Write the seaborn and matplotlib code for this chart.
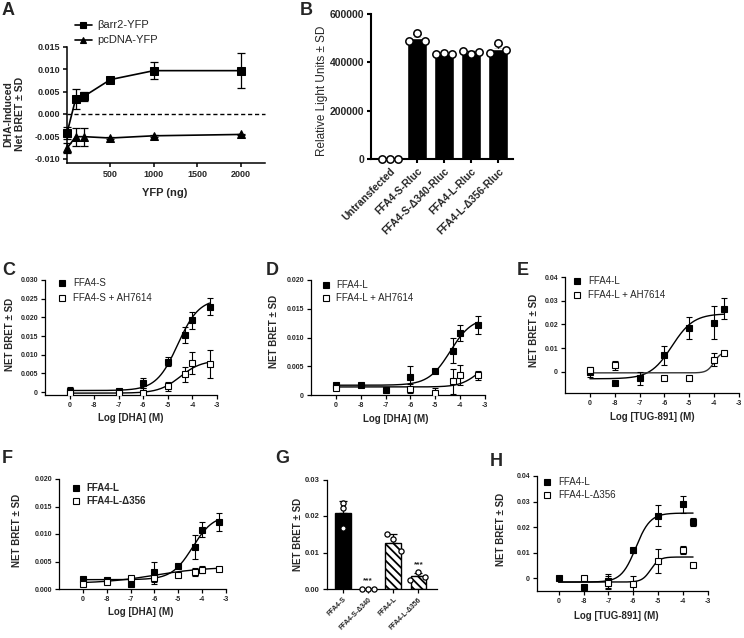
import numpy as np
import pandas as pd
import seaborn as sns
import matplotlib.pyplot as plt
from matplotlib.lines import Line2D

# ---------------- data ----------------
# A - YFP titration
yfp_ng = [0, 100, 200, 500, 1000, 2000]
barr2_mean = [-0.0043, 0.0034, 0.0040, 0.0077, 0.0097, 0.0097]
barr2_sd = [0.0014, 0.0022, 0.0010, 0.0003, 0.0019, 0.0039]
pcdna_mean = [-0.0077, -0.0051, -0.0051, -0.0054, -0.0049, -0.0046]
pcdna_sd = [0.0011, 0.0020, 0.0020, 0.0002, 0.0002, 0.0002]
a_yticks = [-0.010, -0.005, 0.000, 0.005, 0.010, 0.015]
a_ylabels = ['-0.010', '-0.005', '0.000', '0.005', '0.010', '0.015']
a_xticks = [500, 1000, 1500, 2000]

# B - luciferase expression
b_groups = ['Untransfected', 'FFA4-S-Rluc', 'FFA4-S-Δ340-Rluc', 'FFA4-L-Rluc', 'FFA4-L-Δ356-Rluc']
b_mean = [0, 499000, 436000, 441000, 456000]
b_sd = [0, 18000, 3000, 7000, 21000]
b_reps = [[0, 0, 0], [489000, 520000, 489000], [433000, 437000, 436000],
          [448000, 434000, 441000], [437000, 478000, 453000]]
b_yticks = [0, 200000, 400000, 600000]
b_ylabels = ['0', '200000', '400000', '600000']

# dose-response panels: vehicle ("0") is drawn at -9
log_ticks = [-9, -8, -7, -6, -5, -4, -3]
log_labels = ['0', '-8', '-7', '-6', '-5', '-4', '-3']

# C - FFA4-S +/- AH7614, DHA
c_x = [-9, -7, -6, -5, -4.3, -4, -3.3]
c_s_mean = [0.0003, 0.0004, 0.0025, 0.0081, 0.0153, 0.0192, 0.0229]
c_s_sd = [0.0010, 0.0003, 0.0013, 0.0012, 0.0022, 0.0023, 0.0024]
c_ah_x = [-9, -7, -6, -5, -4.3, -4, -3.3]
c_ah_mean = [-0.0002, -0.0002, -0.0003, 0.0015, 0.0047, 0.0077, 0.0075]
c_ah_sd = [0.0002, 0.0002, 0.0013, 0.0012, 0.0020, 0.0030, 0.0037]
c_fit_s = [0.0004, 0.0250, -4.6, 1.0]    # bottom, top, logEC50, hill
c_fit_ah = [-0.0003, 0.0085, -4.5, 1.0]
c_yticks = [0, 0.005, 0.010, 0.015, 0.020, 0.025, 0.030]
c_ylabels = ['0', '0.005', '0.010', '0.015', '0.020', '0.025', '0.030']

# D - FFA4-L +/- AH7614, DHA
d_x = [-9, -8, -7, -6, -5, -4.3, -4, -3.3]
d_l_mean = [0.0018, 0.0017, 0.0009, 0.0031, 0.0041, 0.0077, 0.0108, 0.0122]
d_l_sd = [0.0002, 0.0002, 0.0002, 0.0019, 0.0003, 0.0022, 0.0014, 0.0016]
d_ah_x = [-9, -6, -5, -4.3, -4, -3.3]
d_ah_mean = [0.0012, 0.0011, 0.0004, 0.0024, 0.0035, 0.0034]
d_ah_sd = [0.0002, 0.0008, 0.0008, 0.0022, 0.0018, 0.0008]
d_fit_l = [0.0017, 0.0135, -4.4, 1.0]
d_fit_ah = [0.0014, 0.0060, -3.3, 1.2]
d_yticks = [0, 0.005, 0.010, 0.015, 0.020]
d_ylabels = ['0', '0.005', '0.010', '0.015', '0.020']

# E - FFA4-L +/- AH7614, TUG-891
e_x = [-9, -8, -7, -6, -5, -4, -3.6]
e_l_mean = [-0.0003, -0.0048, -0.0028, 0.0069, 0.0184, 0.0207, 0.0266]
e_l_sd = [0.0018, 0.0010, 0.0027, 0.0040, 0.0045, 0.0070, 0.0045]
e_ah_x = [-9, -8, -6, -5, -4, -3.6]
e_ah_mean = [0.0008, 0.0027, -0.0025, -0.0025, 0.0050, 0.0081]
e_ah_sd = [0.0010, 0.0018, 0.0003, 0.0003, 0.0027, 0.0005]
e_fit_l = [-0.0030, 0.0245, -5.7, 1.0]
e_fit_ah = [-0.0005, 0.0085, -4.0, 3.0]
e_yticks = [0, 0.01, 0.02, 0.03, 0.04]
e_ylabels = ['0', '0.01', '0.02', '0.03', '0.04']

# F - FFA4-L vs FFA4-L-Δ356, DHA
f_x = [-9, -8, -7, -6, -5, -4.3, -4, -3.3]
f_l_mean = [0.0018, 0.0017, 0.0009, 0.0031, 0.0041, 0.0077, 0.0108, 0.0122]
f_l_sd = [0.0002, 0.0002, 0.0002, 0.0019, 0.0003, 0.0022, 0.0014, 0.0016]
f_d_mean = [0.0010, 0.0012, 0.0020, 0.0020, 0.0026, 0.0031, 0.0035, 0.0037]
f_d_sd = [0.0003, 0.0002, 0.0002, 0.0011, 0.0002, 0.0007, 0.0006, 0.0002]
f_fit_l = [0.0017, 0.0135, -4.4, 1.0]
f_fit_d = [0.0010, 0.0040, -6.0, 0.4]
f_yticks = [0, 0.005, 0.010, 0.015, 0.020]
f_ylabels = ['0.000', '0.005', '0.010', '0.015', '0.020']

# G - single-concentration response
g_groups = ['FFA4-S', 'FFA4-S-Δ340', 'FFA4-L', 'FFA4-L-Δ356']
g_mean = [0.0207, 0.0, 0.0127, 0.0035]
g_sd = [0.0035, 0.0, 0.0025, 0.0009]
g_reps = [[0.0235, 0.0222, 0.0166], [0, 0, 0], [0.0150, 0.0105, 0.0136], [0.0026, 0.0046, 0.0033]]
g_yticks = [0, 0.01, 0.02, 0.03]
g_ylabels = ['0.00', '0.01', '0.02', '0.03']

# H - FFA4-L vs FFA4-L-Δ356, TUG-891
h_x = [-9, -8, -7, -6, -5, -4, -3.6]
h_l_mean = [0.0000, -0.0035, -0.0010, 0.0109, 0.0245, 0.0289, 0.0220]
h_l_sd = [0.0003, 0.0003, 0.0028, 0.0010, 0.0042, 0.0032, 0.0015]
h_d_x = [-8, -7, -6, -5, -4, -3.6]
h_d_mean = [0.0000, -0.0017, -0.0024, 0.0068, 0.0111, 0.0050]
h_d_sd = [0.0003, 0.0025, 0.0033, 0.0048, 0.0017, 0.0008]
h_fit_l = [-0.0015, 0.0255, -5.9, 1.5]
h_fit_d = [-0.0015, 0.0083, -5.3, 2.5]
h_yticks = [0, 0.01, 0.02, 0.03, 0.04]
h_ylabels = ['0', '0.01', '0.02', '0.03', '0.04']

# ---------------- figure ----------------
sns.set_style("ticks")
plt.rcParams['font.family'] = ['Liberation Sans', 'DejaVu Sans']
plt.rcParams['hatch.linewidth'] = 1.3
plt.rcParams['hatch.color'] = 'black'

W, H = 744, 638
fig = plt.figure(figsize=(W / 100, H / 100), dpi=100)


def fx(x):
    return x / W


def fy(y):
    return 1 - y / H


def box(l, t, r, b):
    return fig.add_axes([fx(l), fy(b), (r - l) / W, (b - t) / H])


def style(ax, lw=0.9):
    sns.despine(ax=ax)
    for s in ('left', 'bottom'):
        ax.spines[s].set_linewidth(lw)
        ax.spines[s].set_color('black')
    ax.tick_params(width=lw, length=3, color='black', pad=2)


def hill(x, p):
    bottom, top, ec50, h = p
    return bottom + (top - bottom) / (1 + 10 ** ((ec50 - x) * h))


def fit_line(ax, p, xmax, color='black'):
    xs = np.linspace(-9, xmax, 200)
    sns.lineplot(x=xs, y=hill(xs, p), ax=ax, color=color, lw=1.0, zorder=2)


def points(ax, x, y, sd, filled):
    ax.errorbar(x, y, yerr=sd, fmt='s', ms=4, mfc='black' if filled else 'white',
                mec='black', mew=0.8, ecolor='black', elinewidth=0.8,
                capsize=2.5, capthick=0.8, zorder=3 if filled else 4)


def key(xm, y, label, xt, size=7, marker='s', mfc='black', ms=4, x0=None, x1=None, weight='normal'):
    if x0 is not None:
        fig.add_artist(Line2D([fx(x0), fx(x1)], [fy(y), fy(y)], color='black', lw=1.2))
    fig.add_artist(Line2D([fx(xm)], [fy(y)], marker=marker, ms=ms, mfc=mfc, mec='black',
                          mew=0.8, ls='none'))
    fig.text(fx(xt), fy(y), label, fontsize=size, va='center', ha='left', weight=weight)


def dose_axes(ax, yt, yl, ylim, xlim=(-10, -3)):
    style(ax)
    ax.set_xlim(*xlim)
    ax.set_ylim(*ylim)
    ax.set_xticks(log_ticks, log_labels, fontsize=5, fontweight='bold')
    ax.set_yticks(yt, yl, fontsize=5, fontweight='bold')
    ax.set_xlabel('')
    ax.set_ylabel('')


def panel(x, y, letter):
    fig.text(fx(x), fy(y), letter, fontsize=13, fontweight='bold', va='top', ha='left')


def ytitle(x, y, text, size=7, weight='bold'):
    fig.text(fx(x), fy(y), text, rotation=90, fontsize=size, fontweight=weight,
             ha='center', va='center')


def xtitle(x, y, text, size=7, weight='bold'):
    fig.text(fx(x), fy(y), text, fontsize=size, fontweight=weight, ha='center', va='center')


# ---- A ----
ax = box(67, 47, 265, 163)
ax.axhline(0, color='black', lw=1.0, ls=(0, (3, 2)), zorder=1)
for mean, sd, mk in [(barr2_mean, barr2_sd, 's'), (pcdna_mean, pcdna_sd, '^')]:
    sns.lineplot(x=yfp_ng, y=mean, ax=ax, color='black', lw=1.2, marker=mk, markersize=5.5,
                 markeredgecolor='black', markerfacecolor='black', zorder=3)
    ax.errorbar(yfp_ng, mean, yerr=sd, fmt='none', ecolor='black', elinewidth=0.9,
                capsize=3, capthick=0.9, zorder=2)
style(ax, lw=1.1)
ax.set_xlim(0, 2280)
ax.set_ylim(-0.011, 0.015)
ax.set_xticks(a_xticks, [str(t) for t in a_xticks], fontsize=6.5, fontweight='bold')
ax.set_yticks(a_yticks, a_ylabels, fontsize=6.5, fontweight='bold')
for c in ax.collections + ax.lines:
    c.set_clip_on(False)
panel(2, 2, 'A')
xtitle(165, 193, 'YFP (ng)', size=8)
ytitle(14, 114, 'DHA-Induced\nNet BRET ± SD', size=7.5)
key(83, 25, 'βarr2-YFP', 97, size=8, marker='s', ms=5, x0=75, x1=92)
key(83, 40, 'pcDNA-YFP', 97, size=8, marker='^', ms=5, x0=75, x1=92)

# ---- B ----
ax = box(371, 14, 513, 159)
bdf = pd.DataFrame({'group': b_groups, 'rlu': b_mean})
sns.barplot(data=bdf, x='group', y='rlu', color='black', width=0.74, ax=ax,
            errorbar=None, saturation=1, zorder=2)
ax.errorbar(range(len(b_groups)), b_mean, yerr=[[0] * len(b_sd), b_sd], fmt='none',
            ecolor='black', elinewidth=1.0, capsize=3, capthick=1.0, zorder=1)
offs = [-0.3, 0, 0.3]
bx = [i + o for i in range(len(b_groups)) for o in offs]
by = [v for reps in b_reps for v in reps]
sns.scatterplot(x=bx, y=by, ax=ax, marker='o', s=28, color='white', edgecolor='black',
                linewidth=1.1, zorder=4, clip_on=False)
style(ax, lw=1.5)
ax.set_xlim(-0.7, 4.55)
ax.set_ylim(0, 600000)
ax.set_yticks(b_yticks, b_ylabels, fontsize=7.5, fontweight='bold')
ax.set_xticks(range(len(b_groups)), b_groups, fontsize=7.5, fontweight='bold',
              rotation=45, ha='right', rotation_mode='anchor')
ax.set_xlabel('')
ax.set_ylabel('')
panel(300, 2, 'B')
ytitle(322, 91, 'Relative Light Units ± SD', size=8.5, weight='normal')

# ---- C ----
ax = box(45, 280, 217, 395)
fit_line(ax, c_fit_s, -3.3)
fit_line(ax, c_fit_ah, -3.3)
points(ax, c_ah_x, c_ah_mean, c_ah_sd, False)
points(ax, c_x, c_s_mean, c_s_sd, True)
dose_axes(ax, c_yticks, c_ylabels, (-0.0008, 0.030))
panel(2, 262, 'C')
ytitle(10, 334, 'NET BRET ± SD')
xtitle(131, 418, 'Log [DHA] (M)')
key(62, 283, 'FFA4-S', 73)
key(62, 298, 'FFA4-S + AH7614', 73, mfc='white')

# ---- D ----
ax = box(311, 280, 485, 395)
fit_line(ax, d_fit_l, -3.3)
fit_line(ax, d_fit_ah, -3.3)
points(ax, d_ah_x, d_ah_mean, d_ah_sd, False)
points(ax, d_x, d_l_mean, d_l_sd, True)
dose_axes(ax, d_yticks, d_ylabels, (0, 0.020))
panel(266, 262, 'D')
ytitle(274, 331, 'NET BRET ± SD')
xtitle(396, 419, 'Log [DHA] (M)')
key(326, 285, 'FFA4-L', 336)
key(326, 298, 'FFA4-L + AH7614', 336, mfc='white')

# ---- E ----
ax = box(565, 277, 739, 393)
fit_line(ax, e_fit_l, -3.6)
fit_line(ax, e_fit_ah, -3.6, color='#333333')
points(ax, e_ah_x, e_ah_mean, e_ah_sd, False)
points(ax, e_x, e_l_mean, e_l_sd, True)
dose_axes(ax, e_yticks, e_ylabels, (-0.009, 0.040))
panel(517, 262, 'E')
ytitle(534, 330, 'NET BRET ± SD')
xtitle(652, 417, 'Log [TUG-891] (M)')
key(577, 281, 'FFA4-L', 588)
key(577, 295, 'FFA4-L + AH7614', 588, mfc='white')

# ---- F ----
ax = box(59, 479, 226, 589)
fit_line(ax, f_fit_l, -3.3)
fit_line(ax, f_fit_d, -3.3)
points(ax, f_x, f_d_mean, f_d_sd, False)
points(ax, f_x, f_l_mean, f_l_sd, True)
dose_axes(ax, f_yticks, f_ylabels, (0, 0.020))
panel(2, 450, 'F')
ytitle(17, 530, 'NET BRET ± SD')
xtitle(141, 612, 'Log [DHA] (M)')
key(76, 488, 'FFA4-L', 86, weight='bold')
key(76, 501, 'FFA4-L-Δ356', 86, mfc='white', weight='bold')

# ---- G ----
ax = box(327, 479.5, 437, 589)
gdf = pd.DataFrame({'group': g_groups, 'bret': g_mean})
sns.barplot(data=gdf, x='group', y='bret', width=0.63, ax=ax, errorbar=None,
            palette=['black', 'black', 'white', 'white'], hue='group', legend=False,
            saturation=1, edgecolor='black', linewidth=1.0, zorder=2)
for patch, hatch in zip(ax.patches, ['', '', '\\\\\\\\', '\\\\\\\\']):
    patch.set_hatch(hatch)
ax.errorbar(range(len(g_groups)), g_mean, yerr=[[0] * len(g_sd), g_sd], fmt='none',
            ecolor='black', elinewidth=0.9, capsize=3, capthick=0.9, zorder=1)
g_offs = [[0, 0, 0], [-0.23, 0, 0.23], [-0.27, 0.29, 0], [-0.32, 0, 0.28]]
gx = [i + o for i, offs in enumerate(g_offs) for o in offs]
gy = [v for reps in g_reps for v in reps]
sns.scatterplot(x=gx, y=gy, ax=ax, marker='o', s=14, color='white', edgecolor='black',
                linewidth=0.9, zorder=4, clip_on=False)
for i in (1, 3):
    ax.text(i, g_mean[i] + g_sd[i] + 0.0022, '***', ha='center', va='center', fontsize=6,
            fontweight='bold')
style(ax)
ax.set_xlim(-0.64, 3.74)
ax.set_ylim(0, 0.030)
ax.set_yticks(g_yticks, g_ylabels, fontsize=5.5, fontweight='bold')
ax.set_xticks(range(len(g_groups)), g_groups, fontsize=5, fontweight='bold',
              rotation=45, ha='right', rotation_mode='anchor')
ax.set_xlabel('')
ax.set_ylabel('')
panel(275, 450, 'G')
ytitle(298, 534, 'NET BRET ± SD')

# ---- H ----
ax = box(537, 476, 708, 591)
fit_line(ax, h_fit_l, -3.6)
fit_line(ax, h_fit_d, -3.6)
points(ax, h_d_x, h_d_mean, h_d_sd, False)
points(ax, h_x, h_l_mean, h_l_sd, True)
dose_axes(ax, h_yticks, h_ylabels, (-0.005, 0.040), xlim=(-9.87, -3))
panel(490, 453, 'H')
ytitle(501, 529, 'NET BRET ± SD')
xtitle(616, 616, 'Log [TUG-891] (M)')
key(547, 482, 'FFA4-L', 558)
key(547, 495, 'FFA4-L-Δ356', 558, mfc='white')

fig.savefig('out.png', dpi=100)
